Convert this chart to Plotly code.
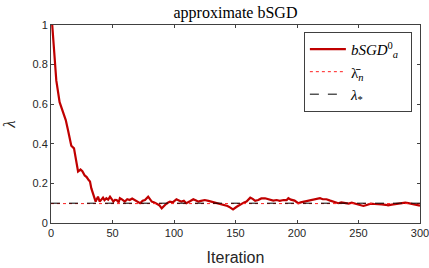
import plotly.graph_objects as go

# Iteration index and estimated lambda of approximate bSGD
iterations = [1, 2.4, 4.3, 7, 9.8, 12, 13.8, 16.5, 18.7, 20.6, 22, 24, 25.5, 27.4, 29, 30.6, 31.7, 32.8,
              35, 36.3, 37, 38.2, 39.6, 41, 42.3, 43.5, 45, 46.5, 48, 49.5, 50.7, 52, 53.4, 55, 56, 58,
              60, 62, 64, 66, 68, 70, 72.4, 74.5, 76.4, 79, 81.9, 84, 86, 88, 90, 91.5, 93.5, 95,
              96.7, 99, 102, 104, 106, 108, 110, 113, 115.7, 118, 119.8, 122, 125, 128, 130.6, 133,
              136, 139, 141.5, 143.5, 145.5, 147, 148, 151, 153, 155, 157, 159, 161, 162, 164,
              166, 168.5, 171, 174, 177, 180.7, 183.5, 186, 189, 191.6, 193, 195, 198, 201, 203,
              206, 209, 213, 216, 218.7, 221, 224, 227, 229.5, 231.5, 233.6, 236, 239, 242, 244.5,
              246.5, 248.5, 251, 254, 256, 258, 260, 263, 266, 269, 272, 274, 277, 280, 282, 285,
              288, 290.5, 293, 295.5, 298.6, 300]
lambda_bsgd = [1.0, 0.857, 0.72, 0.61, 0.56, 0.52, 0.47, 0.39, 0.377, 0.318, 0.26, 0.27, 0.262, 0.24, 0.232, 0.217, 0.21, 0.175,
               0.125, 0.108, 0.118, 0.133, 0.108, 0.12, 0.128, 0.115, 0.125, 0.118, 0.133, 0.12, 0.108, 0.117, 0.116, 0.104, 0.125, 0.118,
               0.108, 0.12, 0.116, 0.124, 0.116, 0.11, 0.10, 0.112, 0.116, 0.133, 0.108, 0.104, 0.096, 0.09, 0.074, 0.085, 0.096, 0.102,
               0.108, 0.104, 0.12, 0.114, 0.108, 0.112, 0.10, 0.11, 0.12, 0.114, 0.108, 0.112, 0.116, 0.112, 0.108, 0.104,
               0.10, 0.096, 0.091, 0.086, 0.079, 0.072, 0.069, 0.082, 0.09, 0.10, 0.104, 0.108, 0.12, 0.128, 0.122,
               0.112, 0.116, 0.124, 0.125, 0.118, 0.113, 0.116, 0.112, 0.116, 0.116, 0.125, 0.118, 0.113, 0.10, 0.104,
               0.108, 0.11, 0.114, 0.118, 0.125, 0.12, 0.12, 0.113, 0.108, 0.104, 0.10, 0.104, 0.10, 0.098, 0.103,
               0.1, 0.096, 0.092, 0.086, 0.09, 0.096, 0.098, 0.096, 0.096, 0.094, 0.092, 0.089, 0.093, 0.096, 0.096, 0.1,
               0.103, 0.1, 0.096, 0.094, 0.089, 0.088]
lambda_bar_n = [0.098, 0.098]
lambda_star = [0.1, 0.1]
line_x = [0, 300]

x_ticks = [0, 50, 100, 150, 200, 250, 300]
y_ticks = [0, 0.2, 0.4, 0.6, 0.8, 1]
y_tick_labels = ["0", "0.2", "0.4", "0.6", "0.8", "1"]

fig = go.Figure()
fig.add_trace(go.Scatter(x=iterations, y=lambda_bsgd, mode="lines",
                         line=dict(color="#c00000", width=2.2),
                         name="<i>bSGD</i><sup>0</sup><sub><i>a</i></sub>&nbsp;&nbsp;"))
fig.add_trace(go.Scatter(x=line_x, y=lambda_bar_n, mode="lines",
                         line=dict(color="#ff2020", width=1, dash="dot"),
                         name="λ̄<sub><i>n</i></sub>"))
fig.add_trace(go.Scatter(x=line_x, y=lambda_star, mode="lines",
                         line=dict(color="#000000", width=1, dash="dash"),
                         name="<i>λ</i><sub>*</sub>"))

axis_common = dict(showgrid=False, zeroline=False, showline=True, linecolor="#404040", linewidth=1,
                   mirror="ticks", ticks="inside", ticklen=3, tickcolor="#404040", automargin=False,
                   ticklabeloverflow="allow",
                   tickfont=dict(family="Liberation Sans, Arial", size=11, color="#262626"))

fig.update_layout(
    width=429, height=268,
    margin=dict(l=51, r=9, t=25, b=45, autoexpand=False),
    paper_bgcolor="white", plot_bgcolor="white",
    title=dict(text="approximate bSGD", x=(51 + 420) / 2 / 429, xanchor="center",
               y=1 - 12 / 268, yanchor="middle", automargin=False,
               font=dict(family="Liberation Serif, DejaVu Serif", size=16, color="#000000")),
    xaxis=dict(range=[0, 300.001], tickvals=x_ticks, ticktext=[str(v) for v in x_ticks],
               title=dict(text="Iteration", standoff=13,
                          font=dict(family="Liberation Sans, Arial", size=16, color="#262626")),
               **axis_common),
    yaxis=dict(range=[0, 1.0001], tickvals=y_ticks, ticktext=y_tick_labels,
               title=dict(text="<i>λ</i>", standoff=12,
                          font=dict(family="Liberation Serif, DejaVu Serif", size=17, color="#262626")),
               **axis_common),
    legend=dict(x=0.978, y=0.965, xanchor="right", yanchor="top",
                bgcolor="white", bordercolor="#404040", borderwidth=1,
                font=dict(family="Liberation Serif, DejaVu Serif", size=15, color="#000000"),
                tracegroupgap=0, itemwidth=36),
    showlegend=True,
)

fig.write_html("out.html", config={"displayModeBar": False},
               post_script="document.body.style.margin='0';document.body.style.padding='0';")
